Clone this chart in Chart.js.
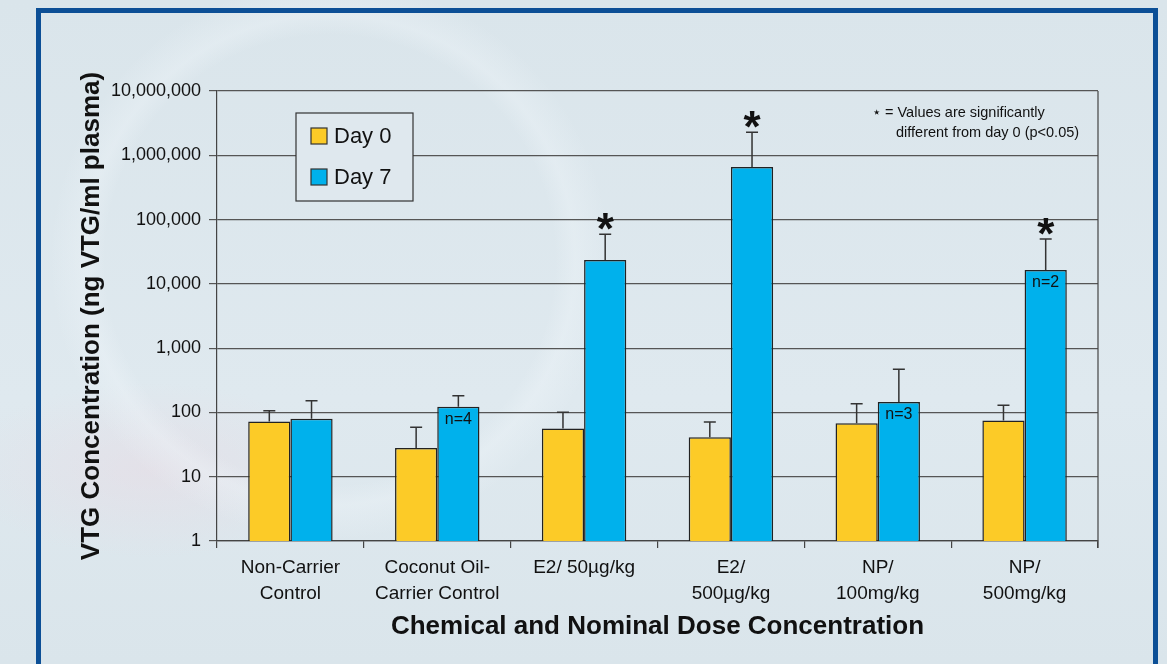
<!DOCTYPE html>
<html>
<head>
<meta charset="utf-8">
<script src="https://cdn.jsdelivr.net/npm/chart.js@4"></script>
<style>
  html, body { margin:0; padding:0; }
  body {
    width:1167px; height:664px; overflow:hidden; position:relative;
    background:
      radial-gradient(circle at 330px 260px, rgba(255,255,255,0) 225px, rgba(240,246,250,0.35) 245px, rgba(255,255,255,0) 280px),
      radial-gradient(ellipse at 150px 470px, rgba(236,214,224,0.4), rgba(236,214,224,0) 190px),
      linear-gradient(180deg, #dae5eb 0%, #dfe9ef 60%, #dae5eb 100%);
  }
  #frame {
    position:absolute; left:36px; top:8px; width:1112px; height:700px;
    border:5px solid #0c4f96;
  }
  #wrap { position:absolute; left:0; top:0; width:1167px; height:664px; }
</style>
</head>
<body>
<div id="frame"></div>
<div id="wrap"><canvas id="chart" width="1167" height="664"></canvas></div>
<script>
// data
let categories=[["Non-Carrier","Control"],["Coconut Oil-","Carrier Control"],"E2/ 50\u00b5g/kg",["E2/","500\u00b5g/kg"],["NP/","100mg/kg"],["NP/","500mg/kg"]];
let day0=[72,28,56,41,68,75];
let day7=[80,123,23500,660000,145,16400];
let day0Err=[106,59,101,71,136,129]; // top of error bar
let day7Err=[152,182,59000,2280000,470,50000];
let day7Star=[false,false,true,true,false,true];
let day7Note=["","n=4","","","n=3","n=2"];
let yTicks=[1,10,100,1000,10000,100000,1000000,10000000];

let yellow="#fccb27";
let blue="#00b1ec";
let ink="#222222";
let font="'Liberation Sans', Arial, Helvetica, sans-serif";

// error bars, stars and n= labels on top of the bars
let barExtras={
  id:"barExtras",
  afterDatasetsDraw(chart){
    let ctx=chart.ctx;
    let y=chart.scales.y;
    let errs=[day0Err,day7Err];
    ctx.save();
    for(let d=0; d<2; d++){
      let meta=chart.getDatasetMeta(d);
      meta.data.forEach(function(bar,i){
        let yTop=y.getPixelForValue(errs[d][i]);
        ctx.strokeStyle="#333";
        ctx.lineWidth=1.5;
        ctx.beginPath();
        ctx.moveTo(bar.x,bar.y);
        ctx.lineTo(bar.x,yTop);
        ctx.moveTo(bar.x-6,yTop);
        ctx.lineTo(bar.x+6,yTop);
        ctx.stroke();
        if(d==1 && day7Star[i]){
          ctx.fillStyle="#111";
          ctx.font="bold 44px "+font;
          ctx.textAlign="center";
          ctx.textBaseline="alphabetic";
          ctx.fillText("*",bar.x,yTop+10);
        }
        if(d==1 && day7Note[i]){
          ctx.fillStyle="#111";
          ctx.font="16px "+font;
          ctx.textAlign="center";
          ctx.textBaseline="middle";
          ctx.fillText(day7Note[i],bar.x,bar.y+13);
        }
      });
    }
    ctx.restore();
  }
};

// plot frame on the right, legend box and the footnote
let decor={
  id:"decor",
  afterDraw(chart){
    let ctx=chart.ctx;
    let a=chart.chartArea;
    let x=chart.scales.x;
    ctx.save();
    ctx.strokeStyle="#444";
    ctx.lineWidth=1.2;
    ctx.beginPath();
    ctx.moveTo(a.right,a.top);
    ctx.lineTo(a.right,a.bottom+7);
    ctx.stroke();

    // legend
    let lx=x.left+79, ly=a.top+22, lw=117, lh=88;
    ctx.fillStyle="#dfe8ee";
    ctx.fillRect(lx,ly,lw,lh);
    ctx.strokeStyle="#333";
    ctx.lineWidth=1.2;
    ctx.strokeRect(lx,ly,lw,lh);
    let names=["Day 0","Day 7"];
    let cols=[yellow,blue];
    ctx.font="22px "+font;
    ctx.textAlign="left";
    ctx.textBaseline="middle";
    for(let k=0;k<2;k++){
      let cy=ly+23+k*41;
      ctx.fillStyle=cols[k];
      ctx.fillRect(lx+15,cy-8,16,16);
      ctx.strokeStyle="#333";
      ctx.strokeRect(lx+15,cy-8,16,16);
      ctx.fillStyle="#111";
      ctx.fillText(names[k],lx+38,cy+1);
    }

    // footnote
    ctx.font="14.5px "+font;
    ctx.fillStyle="#111";
    ctx.textAlign="left";
    ctx.textBaseline="middle";
    ctx.fillText("\u22c6 = Values are significantly",a.right-226,a.top+22);
    ctx.fillText("different from day 0 (p<0.05)",a.right-202,a.top+42);
    ctx.restore();
  }
};

new Chart("chart",{
  type:"bar",
  data:{
    labels:categories,
    datasets:[
      {label:"Day 0",data:day0,backgroundColor:yellow,borderColor:ink,borderWidth:1.5,borderSkipped:"bottom"},
      {label:"Day 7",data:day7,backgroundColor:blue,borderColor:ink,borderWidth:1.5,borderSkipped:"bottom"}
    ]
  },
  options:{
    responsive:false,
    animation:false,
    layout:{padding:{left:40,top:91,right:69,bottom:0}},
    datasets:{bar:{categoryPercentage:0.575,barPercentage:1.0}},
    plugins:{legend:{display:false},tooltip:{enabled:false}},
    scales:{
      x:{
        afterFit:function(s){ s.height=123; },
        grid:{drawOnChartArea:false,color:"#444",tickLength:7,lineWidth:1.2},
        border:{color:"#444",width:1.2},
        ticks:{color:"#111",font:{family:font,size:19,lineHeight:1.37},padding:7,maxRotation:0,autoSkip:false},
        title:{display:true,text:"Chemical and Nominal Dose Concentration",color:"#111",
          font:{family:font,size:26,weight:"bold"},padding:{top:0,bottom:22}}
      },
      y:{
        type:"logarithmic",
        min:1,max:10000000,
        afterFit:function(s){ s.width=177; },
        afterBuildTicks:function(s){ s.ticks=yTicks.map(function(v){return {value:v};}); },
        grid:{color:"#555",lineWidth:1.2,tickLength:8},
        border:{color:"#444",width:1.2},
        ticks:{color:"#111",font:{family:font,size:18},padding:8,
          callback:function(v){ return Number(v).toLocaleString("en-US"); }},
        title:{display:true,text:"VTG Concentration (ng VTG/ml plasma)",color:"#111",
          font:{family:font,size:26,weight:"bold"},padding:{top:36,bottom:0}}
      }
    }
  },
  plugins:[barExtras,decor]
});
</script>
</body>
</html>
